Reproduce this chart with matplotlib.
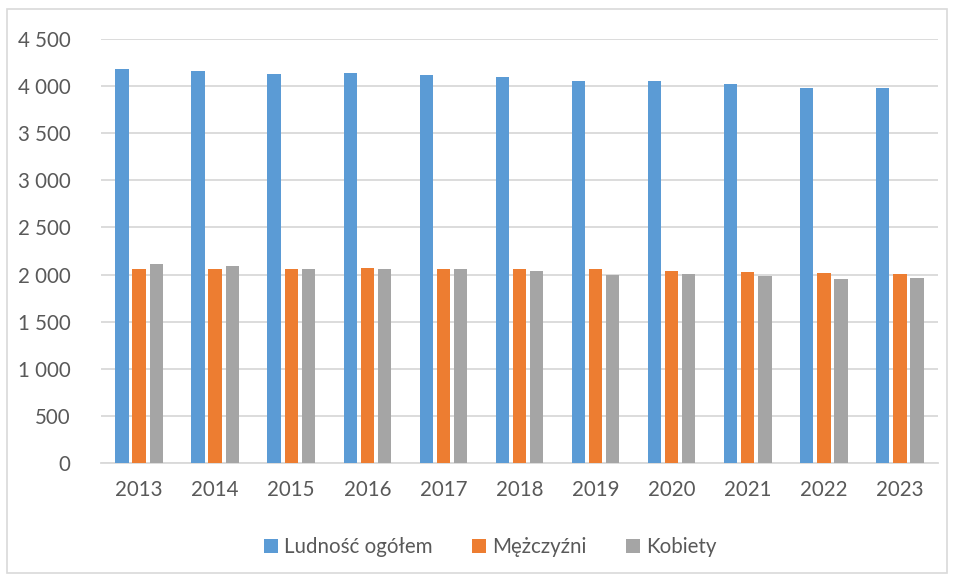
import numpy as np
import matplotlib.pyplot as plt
from matplotlib.patches import Rectangle

# dane
years = ['2013', '2014', '2015', '2016', '2017', '2018', '2019', '2020', '2021', '2022', '2023']
ogolem = [4182, 4157, 4125, 4136, 4114, 4093, 4054, 4054, 4018, 3983, 3983]
mezczyzni = [2064, 2064, 2061, 2072, 2061, 2054, 2054, 2040, 2029, 2018, 2011]
kobiety = [2114, 2093, 2061, 2061, 2054, 2040, 2000, 2011, 1989, 1957, 1964]
y_ticks = [0, 500, 1000, 1500, 2000, 2500, 3000, 3500, 4000, 4500]

plt.rcParams['font.family'] = ['Lato', 'DejaVu Sans']
txt = '#595959'

fig = plt.figure(figsize=(9.56, 5.78), dpi=100)
ax = fig.add_axes([101 / 956, 115 / 578, 837 / 956, 424 / 578])

x = np.arange(len(years))
w = 0.175
step = 0.225
ax.bar(x - step, ogolem, w, color='#5B9BD5', label='Ludność ogółem', zorder=3)
ax.bar(x, mezczyzni, w, color='#ED7D31', label='Mężczyźni', zorder=3)
ax.bar(x + step, kobiety, w, color='#A5A5A5', label='Kobiety', zorder=3)

ax.set_xlim(-0.5, len(years) - 0.5)
ax.set_ylim(0, 4500)
ax.set_yticks(y_ticks)
ax.set_yticklabels([f'{v:,}'.replace(',', ' ') for v in y_ticks])
ax.set_xticks(x)
ax.set_xticklabels(years)
ax.tick_params(axis='both', length=0, labelsize=14.8, labelcolor=txt)
ax.tick_params(axis='y', pad=22)
ax.tick_params(axis='x', pad=12)

ax.grid(axis='y', color='#D9D9D9', linewidth=1.3, zorder=0)
for s in ['top', 'right', 'left']:
    ax.spines[s].set_visible(False)
ax.spines['bottom'].set_color('#D9D9D9')
ax.spines['bottom'].set_linewidth(1.3)

leg = fig.legend(loc='center', bbox_to_anchor=(0.513, 1 - 547 / 578), ncol=3,
                 frameon=False, fontsize=14.8, handlelength=0.7, handleheight=0.7,
                 handletextpad=0.3, columnspacing=1.9)
for t in leg.get_texts():
    t.set_color(txt)

# ramka wykresu
fig.patches.append(Rectangle((7 / 956, 5 / 578), 940 / 956, 564 / 578,
                             transform=fig.transFigure, fill=False,
                             edgecolor='#D9D9D9', linewidth=1.2))

fig.savefig('out.png', dpi=100)
